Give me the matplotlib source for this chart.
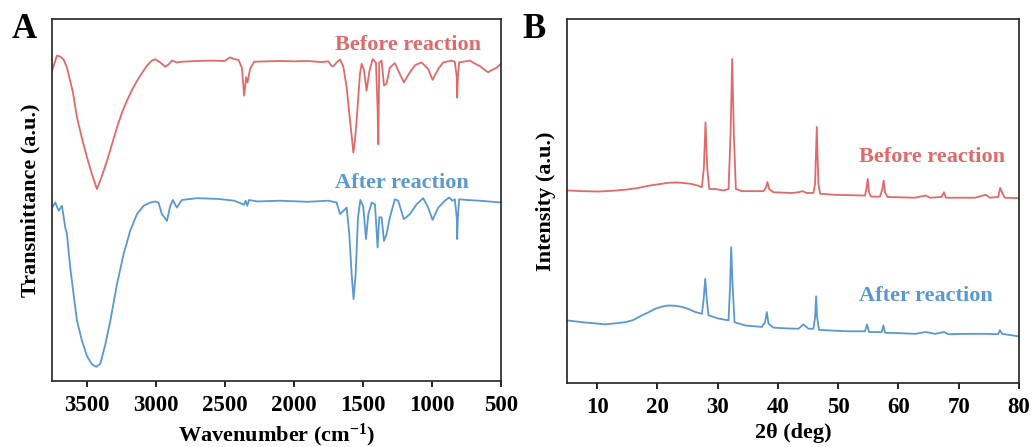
import matplotlib
matplotlib.use("Agg")
import matplotlib.pyplot as plt

# ---------------- FTIR data (panel A) ----------------
ftir_before_wn = [3750, 3714, 3690, 3666, 3642, 3600, 3569, 3530, 3497, 3460, 3425, 3390, 3352, 3315,
                  3280, 3245, 3208, 3170, 3135, 3100, 3063, 3030, 3003, 2967, 2931, 2907, 2882, 2846,
                  2810, 2700, 2600, 2500, 2461, 2430, 2400, 2376, 2359, 2345, 2335, 2316, 2287, 2200,
                  2100, 2000, 1900, 1800, 1750, 1730, 1714, 1690, 1665, 1641, 1617, 1593, 1580, 1569,
                  1558, 1545, 1521, 1509, 1492, 1473, 1453, 1429, 1405, 1393, 1388, 1381, 1364, 1347,
                  1328, 1304, 1268, 1232, 1203, 1159, 1120, 1075, 1027, 995, 954, 918, 858, 834, 820,
                  817, 812, 803, 760, 726, 690, 653, 620, 593, 560, 533, 500]
ftir_before_t = [85.7, 89.9, 89.6, 88.8, 86.6, 80.0, 72.8, 66.5, 61.8, 57.0, 53.0, 56.5, 60.8, 65.5,
                 70.0, 74.0, 77.4, 80.5, 82.9, 85.0, 87.1, 88.4, 88.9, 88.0, 86.8, 87.4, 88.5, 88.0,
                 88.2, 88.4, 88.5, 88.4, 89.4, 88.9, 88.7, 86.6, 78.8, 83.9, 82.5, 86.2, 88.2, 88.3,
                 88.4, 88.3, 88.4, 88.1, 88.3, 87.2, 86.9, 88.0, 88.8, 86.8, 81.1, 72.0, 67.5, 63.1,
                 66.0, 72.0, 84.8, 87.6, 86.0, 80.2, 85.5, 88.9, 88.0, 75.0, 65.4, 88.0, 88.5, 81.6,
                 82.2, 86.6, 87.8, 84.8, 82.5, 85.3, 87.3, 88.0, 86.2, 83.2, 86.2, 88.0, 88.5, 88.2,
                 84.0, 78.3, 84.0, 88.0, 88.3, 88.5, 87.7, 87.0, 86.0, 85.3, 86.0, 86.5, 87.6]

ftir_after_wn = [3750, 3726, 3702, 3678, 3654, 3642, 3618, 3594, 3569, 3533, 3497, 3461, 3430, 3400,
                 3364, 3328, 3280, 3232, 3184, 3135, 3087, 3039, 3003, 2979, 2955, 2936, 2918, 2894,
                 2875, 2858, 2846, 2810, 2700, 2550, 2430, 2360, 2348, 2336, 2324, 2264, 2100, 1900,
                 1750, 1690, 1665, 1641, 1617, 1598, 1581, 1567, 1552, 1535, 1518, 1497, 1477, 1460,
                 1436, 1412, 1393, 1381, 1364, 1347, 1328, 1304, 1268, 1244, 1203, 1159, 1111, 1063,
                 1027, 995, 954, 906, 875, 851, 834, 820, 817, 812, 803, 750, 653, 500]
ftir_after_t = [47.9, 49.3, 47.0, 48.4, 42.4, 40.6, 31.3, 24.0, 16.6, 11.1, 6.9, 4.6, 3.9, 4.8,
                10.1, 16.6, 26.7, 35.0, 41.5, 46.1, 48.4, 49.3, 49.6, 49.3, 46.1, 45.2, 44.2, 48.4,
                50.0, 48.7, 47.9, 50.0, 50.5, 50.3, 49.8, 48.7, 49.8, 48.4, 50.0, 49.6, 49.8, 49.5,
                49.8, 49.3, 46.1, 47.0, 47.9, 40.6, 29.5, 22.6, 29.5, 45.2, 50.0, 48.2, 39.2, 46.1,
                49.3, 48.8, 36.9, 45.2, 45.2, 38.7, 40.6, 45.2, 50.2, 49.8, 44.7, 46.1, 48.8, 50.5,
                47.9, 44.5, 47.9, 49.8, 50.7, 49.8, 50.2, 45.0, 39.2, 45.0, 50.2, 50.0, 49.8, 49.3]

# ---------------- XRD data (panel B) ----------------
xrd_before_2t = [5.0, 7.5, 10.25, 12.5, 14.67, 16.5, 18.54, 20.2, 21.85, 23.2, 24.61, 25.6, 26.55,
                 27.38, 27.71, 27.98, 28.26, 28.59, 29.59, 30.97, 31.80, 32.13, 32.40, 32.68, 33.01,
                 34.01, 36.0, 37.60, 37.98, 38.26, 38.54, 39.25, 40.8, 42.29, 43.4, 44.06, 44.78,
                 45.88, 46.16, 46.44, 46.71, 46.99, 49.48, 52.0, 54.45, 54.72, 54.89, 55.11, 55.44,
                 56.93, 57.32, 57.54, 57.76, 58.20, 60.5, 62.73, 64.50, 65.22, 67.15, 67.54, 67.87,
                 70.0, 72.68, 74.50, 75.17, 76.55, 76.88, 77.27, 77.65, 80.0]
xrd_before_i = [52.9, 52.7, 52.6, 52.8, 53.1, 53.5, 54.2, 54.6, 55.0, 55.1, 54.9, 54.7, 54.3,
                53.8, 59.3, 71.6, 59.3, 53.3, 53.3, 52.9, 53.3, 68.4, 89.0, 68.4, 53.3,
                52.7, 52.7, 52.7, 53.6, 55.2, 53.3, 52.4, 52.3, 52.2, 52.4, 52.7, 52.2,
                52.2, 54.7, 70.3, 54.7, 52.0, 51.7, 51.6, 51.5, 53.8, 56.1, 52.4, 51.2,
                51.2, 53.3, 55.6, 52.4, 51.1, 51.0, 50.9, 51.5, 50.9, 51.1, 52.4, 50.9,
                50.9, 50.9, 51.7, 50.9, 51.1, 53.6, 52.0, 50.9, 50.8]

xrd_after_2t = [5.0, 7.49, 9.5, 11.35, 13.0, 14.67, 16.0, 17.43, 18.5, 19.64, 20.8, 21.85, 23.0,
                24.06, 25.2, 26.27, 27.38, 27.65, 27.93, 28.20, 28.48, 30.14, 31.80, 32.07, 32.24,
                32.46, 32.79, 34.56, 37.32, 37.87, 38.15, 38.43, 39.25, 41.5, 43.40, 44.23, 45.06,
                45.88, 46.16, 46.33, 46.49, 46.82, 49.0, 51.69, 54.45, 54.78, 55.11, 57.21, 57.49,
                57.76, 60.0, 62.73, 64.50, 66.05, 67.54, 68.26, 71.5, 74.50, 76.55, 76.82, 77.21, 80.0]
xrd_after_i = [17.2, 16.7, 16.4, 16.1, 16.4, 16.7, 17.3, 18.6, 19.4, 20.4, 21.0, 21.3, 21.2,
               20.9, 20.3, 19.5, 19.0, 22.7, 28.6, 22.7, 18.6, 17.7, 17.2, 27.3, 37.3,
               27.3, 16.7, 15.8, 15.4, 16.7, 19.5, 16.3, 15.2, 15.0, 14.9, 16.1, 14.9,
               14.9, 18.1, 23.8, 18.1, 14.6, 14.4, 14.2, 14.2, 16.1, 14.0, 14.0, 15.8,
               13.8, 13.7, 13.5, 14.0, 13.5, 14.0, 13.4, 13.5, 13.5, 13.4, 14.5, 13.5, 12.8]

ftir_ticks = [3500, 3000, 2500, 2000, 1500, 1000, 500]
xrd_ticks = [10, 20, 30, 40, 50, 60, 70, 80]
series_labels = ["Before reaction", "After reaction"]

RED = "#E06A6A"
BLUE = "#5B98D2"

plt.rcParams['font.family'] = ['Liberation Serif', 'DejaVu Serif']
plt.rcParams['font.weight'] = 'bold'
plt.rcParams['mathtext.fontset'] = 'custom'
plt.rcParams['mathtext.rm'] = 'Liberation Serif:bold'
plt.rcParams['mathtext.it'] = 'Liberation Serif:bold'
plt.rcParams['mathtext.bf'] = 'Liberation Serif:bold'
plt.rcParams['mathtext.default'] = 'rm'

fig = plt.figure(figsize=(10.34, 4.47), dpi=100)
axA = fig.add_axes([0.0503, 0.1477, 0.4342, 0.8098])
axB = fig.add_axes([0.5484, 0.1432, 0.4371, 0.8143])

for ax in (axA, axB):
    for s in ax.spines.values():
        s.set_linewidth(1.2)
        s.set_color("#222222")
    ax.tick_params(axis='x', direction='out', length=4, width=1.2, labelsize=16.5, pad=6)
    ax.tick_params(axis='y', left=False, labelleft=False)

# Panel A
axA.plot(ftir_before_wn, ftir_before_t, color=RED, lw=1.3)
axA.plot(ftir_after_wn, ftir_after_t, color=BLUE, lw=1.3)
axA.set_xlim(3750, 500)
axA.set_ylim(0, 100)
axA.set_xticks(ftir_ticks)
axA.set_xticklabels([str(t) for t in ftir_ticks], fontweight='bold')
axA.set_xlabel("Wavenumber (cm$^{-1}$)", fontsize=16, fontweight='bold', labelpad=4)
axA.set_ylabel("Transmittance (a.u.)", fontsize=16, fontweight='bold', labelpad=8)
axA.text(1171, 92.8, series_labels[0], color=RED, fontsize=16, fontweight='bold', ha='center', va='center')
axA.text(1219, 54.6, series_labels[1], color=BLUE, fontsize=16, fontweight='bold', ha='center', va='center')

# Panel B
axB.plot(xrd_before_2t, xrd_before_i, color=RED, lw=1.3)
axB.plot(xrd_after_2t, xrd_after_i, color=BLUE, lw=1.3)
axB.set_xlim(5, 80)
axB.set_ylim(0, 100)
axB.set_xticks(xrd_ticks)
axB.set_xticklabels([str(t) for t in xrd_ticks], fontweight='bold')
axB.set_xlabel("2θ (deg)", fontsize=16, fontweight='bold', labelpad=4)
axB.set_ylabel("Intensity (a.u.)", fontsize=16, fontweight='bold', labelpad=8)
axB.text(65.5, 62.0, series_labels[0], color=RED, fontsize=16, fontweight='bold', ha='center', va='center')
axB.text(64.5, 23.8, series_labels[1], color=BLUE, fontsize=16, fontweight='bold', ha='center', va='center')

fig.text(24 / 1034, 1 - 30 / 447, "A", fontsize=25, fontweight='bold', ha='center', va='center')
fig.text(534 / 1034, 1 - 30 / 447, "B", fontsize=25, fontweight='bold', ha='center', va='center')

fig.savefig("out.png", dpi=100)
